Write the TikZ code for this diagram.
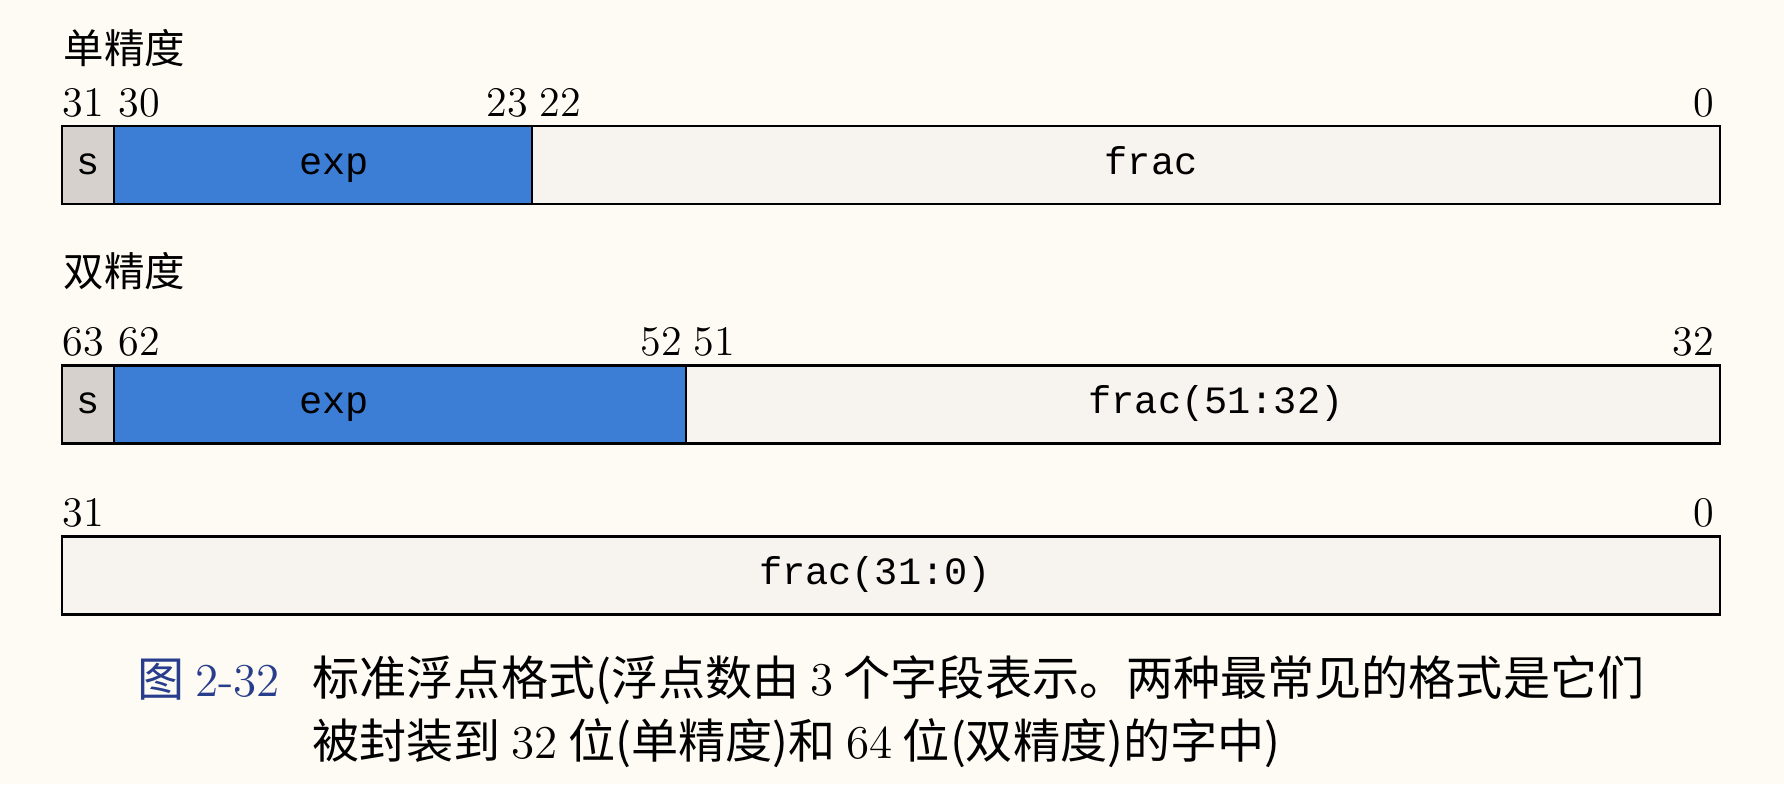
\documentclass[tikz,border=0pt]{standalone}
\usepackage{fontspec}
\newfontfamily\cjk{Noto Sans CJK SC}
\setmonofont{Liberation Mono}
\usetikzlibrary{positioning}
\definecolor{bgcream}{RGB}{253,251,244}
\definecolor{fracfill}{RGB}{247,244,240}
\definecolor{signfill}{RGB}{214,209,204}
\definecolor{expblue}{RGB}{60,125,214}
\definecolor{capblue}{RGB}{40,62,140}
\newcommand{\capnum}[1]{{\rmfamily #1}}
\tikzset{
  field/.style={draw, line width=0.8pt, minimum height=0.78cm, inner sep=0pt, outer sep=0pt},
  fieldtext/.style={inner sep=0pt, text height=1.6ex, text depth=0.4ex, font=\ttfamily\fontsize{11}{13}\selectfont},
  bitno/.style={inner sep=0pt, font=\fontsize{12}{14}\selectfont},
  title/.style={inner sep=0pt, anchor=west, font=\cjk\fontsize{11.5}{14}\selectfont},
  captext/.style={inner sep=0pt, anchor=west, font=\cjk\fontsize{13.4}{16}\selectfont},
}
\begin{document}
\begin{tikzpicture}
        % 背景
        \fill[bgcream] (0,0) rectangle (17.84,7.84);
        \useasboundingbox (0,0) rectangle (17.84,7.84);

        % 单精度
        \node[title] (t1) at (0.63,7.36) {单精度};
        \node[field, fill=signfill, minimum width=0.52cm, anchor=west] (s1) at (0.62,6.19) {};
        \node[field, fill=expblue, minimum width=4.18cm, right=0pt of s1] (exp1) {};
        \node[field, fill=fracfill, minimum width=11.88cm, right=0pt of exp1] (frac1) {};
        \node[fieldtext] (ls1) at (s1.center) {s};
        \node[fieldtext] (le1) at ([xshift=2.2cm]exp1.west) {exp};
        \node[fieldtext] (lf1) at ([xshift=0.25cm]frac1.center) {frac};
        \node[bitno, anchor=base west] (b31) at ([yshift=0.1cm]s1.north west) {31};
        \node[bitno, anchor=base west] (b30) at ([xshift=0.04cm, yshift=0.1cm]exp1.north west) {30};
        \node[bitno, anchor=base east] (b23) at ([xshift=-0.03cm, yshift=0.1cm]exp1.north east) {23};
        \node[bitno, anchor=base west] (b22) at ([xshift=0.07cm, yshift=0.1cm]frac1.north west) {22};
        \node[bitno, anchor=base east] (b0) at ([xshift=-0.05cm, yshift=0.1cm]frac1.north east) {0};

        % 双精度
        \node[title] (t2) at (0.63,5.13) {双精度};
        \node[field, fill=signfill, minimum width=0.52cm, anchor=west] (s2) at (0.62,3.795) {};
        \node[field, fill=expblue, minimum width=5.72cm, right=0pt of s2] (exp2) {};
        \node[field, fill=fracfill, minimum width=10.34cm, right=0pt of exp2] (frac2) {};
        \node[fieldtext] (ls2) at (s2.center) {s};
        \node[fieldtext] (le2) at ([xshift=2.2cm]exp2.west) {exp};
        \node[fieldtext] (lf2) at ([xshift=0.13cm]frac2.center) {frac(51:32)};
        \node[bitno, anchor=base west] (b63) at ([yshift=0.1cm]s2.north west) {63};
        \node[bitno, anchor=base west] (b62) at ([xshift=0.04cm, yshift=0.1cm]exp2.north west) {62};
        \node[bitno, anchor=base east] (b52) at ([xshift=-0.03cm, yshift=0.1cm]exp2.north east) {52};
        \node[bitno, anchor=base west] (b51) at ([xshift=0.07cm, yshift=0.1cm]frac2.north west) {51};
        \node[bitno, anchor=base east] (b32) at ([xshift=-0.05cm, yshift=0.1cm]frac2.north east) {32};

        % 低 32 位
        \node[field, fill=fracfill, minimum width=16.58cm, anchor=west] (frac3) at (0.62,2.085) {};
        \node[fieldtext] (lf3) at ([xshift=-0.16cm]frac3.center) {frac(31:0)};
        \node[bitno, anchor=base west] (c31) at ([yshift=0.1cm]frac3.north west) {31};
        \node[bitno, anchor=base east] (c0) at ([xshift=-0.05cm, yshift=0.1cm]frac3.north east) {0};

        % 图题
        \node[captext, text=capblue] (fig) at (1.37,1.04) {图 \capnum{2-32}};
        \node[captext] (cap1) at (3.12,1.04) {标准浮点格式(浮点数由 \capnum{3} 个字段表示。两种最常见的格式是它们};
        \node[captext] (cap2) at ([yshift=-0.63cm]cap1.west) {被封装到 \capnum{32} 位(单精度)和 \capnum{64} 位(双精度)的字中)};
\end{tikzpicture}
\end{document}
